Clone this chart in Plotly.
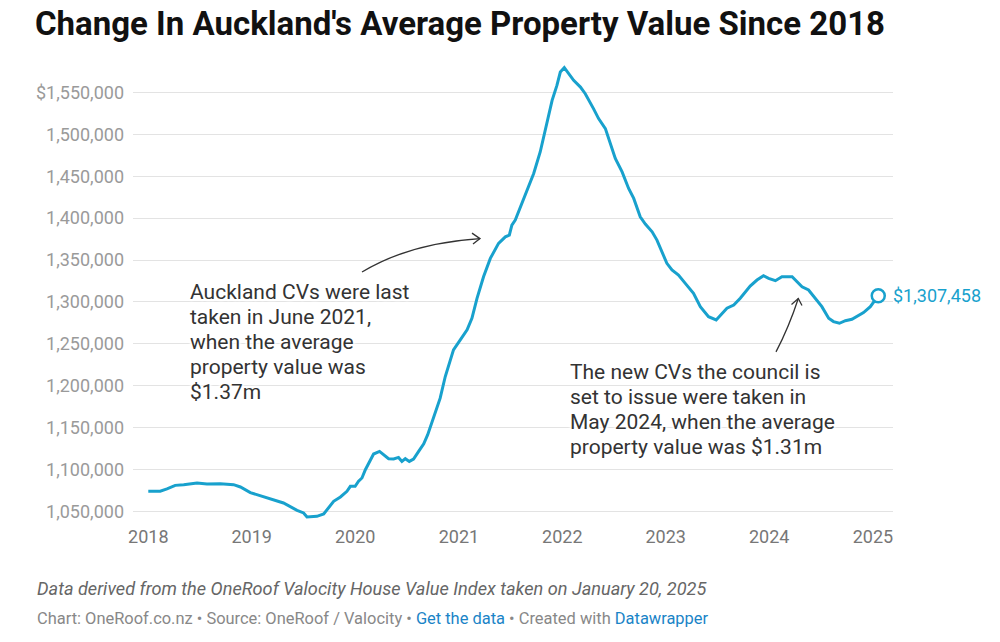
import plotly.graph_objects as go

# ---- data ----
dates = [
    "2018-01-01", "2018-02-12", "2018-03-08", "2018-04-06", "2018-05-06", "2018-06-22",
    "2018-07-27", "2018-09-12", "2018-10-29", "2018-11-22", "2018-12-27", "2019-01-31",
    "2019-03-19", "2019-04-23", "2019-06-10", "2019-07-03", "2019-07-15", "2019-08-19",
    "2019-09-12", "2019-10-17", "2019-11-10", "2019-12-03", "2019-12-15", "2020-01-01",
    "2020-01-13", "2020-01-25", "2020-02-06", "2020-02-23", "2020-03-06", "2020-03-27",
    "2020-04-10", "2020-04-28", "2020-05-16", "2020-06-02", "2020-06-14", "2020-06-26",
    "2020-07-10", "2020-07-25", "2020-08-12", "2020-08-30", "2020-09-13", "2020-10-02",
    "2020-10-27", "2020-11-14", "2020-12-13", "2021-01-06", "2021-01-30", "2021-02-16",
    "2021-03-06", "2021-03-29", "2021-04-22", "2021-05-21", "2021-06-14", "2021-06-28",
    "2021-07-07", "2021-07-19", "2021-08-06", "2021-08-30", "2021-09-22", "2021-10-15",
    "2021-11-08", "2021-11-26", "2021-12-13", "2021-12-25", "2022-01-08", "2022-01-23",
    "2022-02-10", "2022-03-06", "2022-03-23", "2022-04-21", "2022-05-09", "2022-06-02",
    "2022-06-19", "2022-07-07", "2022-07-31", "2022-08-23", "2022-09-10", "2022-10-03",
    "2022-10-21", "2022-11-14", "2022-12-01", "2022-12-19", "2023-01-05", "2023-01-23",
    "2023-02-15", "2023-03-11", "2023-04-09", "2023-05-03", "2023-06-01", "2023-06-28",
    "2023-07-19", "2023-08-05", "2023-08-29", "2023-09-21", "2023-10-26", "2023-11-19",
    "2023-12-12", "2023-12-30", "2024-01-23", "2024-02-15", "2024-03-22", "2024-04-08",
    "2024-04-26", "2024-05-19", "2024-06-06", "2024-07-05", "2024-07-29", "2024-08-15",
    "2024-09-05", "2024-09-26", "2024-10-19", "2024-11-06", "2024-11-29", "2024-12-23",
    "2025-01-20",
]
values = [
    1074400, 1074400, 1077000, 1081300, 1082100, 1084100,
    1083000, 1083300, 1082100, 1079400, 1072700, 1069000,
    1064300, 1060300, 1051500, 1048400, 1043700, 1044400,
    1047200, 1062300, 1067500, 1074200, 1080200, 1080200,
    1086200, 1090100, 1100000, 1111900, 1118700, 1121800,
    1117900, 1113100, 1112700, 1114600, 1109800, 1113100,
    1109900, 1112700, 1121800, 1130900, 1141700, 1159500,
    1185300, 1211100, 1242900, 1254800, 1266700, 1280600,
    1304400, 1330100, 1352000, 1369900, 1377700, 1379800,
    1391700, 1397600, 1413500, 1433300, 1453200, 1478900,
    1512700, 1540500, 1558300, 1574200, 1579400, 1572300,
    1564300, 1556300, 1548400, 1530600, 1518700, 1506800,
    1488900, 1471100, 1455100, 1435400, 1423500, 1401600,
    1392900, 1383700, 1373800, 1359900, 1346100, 1338100,
    1332100, 1322200, 1310300, 1294400, 1282500, 1278600,
    1286500, 1292500, 1296400, 1304400, 1319000, 1326200,
    1331300, 1328200, 1325400, 1330100, 1330100, 1324200,
    1318200, 1314300, 1306300, 1294400, 1280600, 1276600,
    1274600, 1277700, 1279400, 1282500, 1287300, 1294400,
    1307458,
]
year_ticks = ["2018-01-01", "2019-01-01", "2020-01-01", "2021-01-01",
              "2022-01-01", "2023-01-01", "2024-01-01", "2025-01-01"]
year_labels = ["2018", "2019", "2020", "2021", "2022", "2023", "2024", "2025"]
y_ticks = [1050000, 1100000, 1150000, 1200000, 1250000, 1300000,
           1350000, 1400000, 1450000, 1500000, 1550000]
y_labels = ["1,050,000", "1,100,000", "1,150,000", "1,200,000", "1,250,000",
            "1,300,000", "1,350,000", "1,400,000", "1,450,000", "1,500,000",
            "$1,550,000"]
end_label = "$1,307,458"
note_2021 = ["Auckland CVs were last", "taken in June 2021,", "when the average",
             "property value was", "$1.37m"]
note_2024 = ["The new CVs the council is", "set to issue were taken in",
             "May 2024, when the average", "property value was $1.31m"]
title_text = "Change In Auckland's Average Property Value Since 2018"
notes_text = "Data derived from the OneRoof Valocity House Value Index taken on January 20, 2025"

# ---- layout geometry (pixels) ----
W, H = 1000, 642
L, R = 133, 893
T, B = 62.6, 520.4
BLUE = "#18a1cd"
LINK = "#1a84c7"


def px(x):
    return (x - L) / (R - L)


def py(y):
    return (B - y) / (B - T)


fig = go.Figure()
fig.add_trace(go.Scatter(
    x=dates, y=values, mode="lines",
    line=dict(color=BLUE, width=3), hoverinfo="skip", showlegend=False,
))
fig.add_trace(go.Scatter(
    x=[dates[-1]], y=[values[-1]], mode="markers",
    marker=dict(symbol="circle", size=13, color="white",
                line=dict(color=BLUE, width=2.5)),
    cliponaxis=False, hoverinfo="skip", showlegend=False,
))

halo = ("2px 0px 2px white, -2px 0px 2px white, 0px 2px 2px white, "
        "0px -2px 2px white")
note_font = dict(family="Roboto", size=21, color="#333333", shadow=halo)

annos = [
    dict(x=dates[-1], y=values[-1], xref="x", yref="y", text=end_label,
         showarrow=False, xanchor="left", yanchor="middle", xshift=13,
         font=dict(family="Roboto", size=18, color=BLUE)),
    dict(x=px(35), y=py(589), xref="paper", yref="paper", text=notes_text,
         showarrow=False, xanchor="left", yanchor="middle",
         font=dict(family="Roboto", size=18.15, color="#666666", style="italic")),
    dict(x=px(35), y=py(619), xref="paper", yref="paper",
         text=("Chart: OneRoof.co.nz • Source: OneRoof / Valocity • "
               f"<span style='color:{LINK}'>Get the data</span> • Created with "
               f"<span style='color:{LINK}'>Datawrapper</span>"),
         showarrow=False, xanchor="left", yanchor="middle",
         font=dict(family="Roboto", size=16.45, color="#888888")),
]
for i, line in enumerate(note_2021):
    annos.append(dict(x=px(188), y=py(291.7 + 25 * i), xref="paper", yref="paper",
                      text=line, showarrow=False, xanchor="left", yanchor="middle",
                      font=note_font))
for i, line in enumerate(note_2024):
    annos.append(dict(x=px(568), y=py(372 + 25 * i), xref="paper", yref="paper",
                      text=line, showarrow=False, xanchor="left", yanchor="middle",
                      font=note_font))


def path_q(p0, c, p1):
    return (f"M {px(p0[0])},{py(p0[1])} Q {px(c[0])},{py(c[1])} "
            f"{px(p1[0])},{py(p1[1])}")


def path_l(pts):
    s = f"M {px(pts[0][0])},{py(pts[0][1])}"
    for p in pts[1:]:
        s += f" L {px(p[0])},{py(p[1])}"
    return s


arrow_style = dict(color="#333333", width=1.3)
shapes = [
    dict(type="path", xref="paper", yref="paper",
         path=path_q((362, 272), (410, 243), (480, 238.5)), line=arrow_style),
    dict(type="path", xref="paper", yref="paper",
         path=path_l([(472, 233), (480, 238.5), (473, 244)]), line=arrow_style),
    dict(type="path", xref="paper", yref="paper",
         path=path_q((776, 352), (789, 327), (798.3, 298.5)), line=arrow_style),
    dict(type="path", xref="paper", yref="paper",
         path=path_l([(791.5, 304.5), (798.3, 298.5), (802, 305.5)]), line=arrow_style),
]

fig.update_layout(
    width=W, height=H,
    margin=dict(l=L, r=W - R, t=T, b=H - B),
    paper_bgcolor="white", plot_bgcolor="white",
    title=dict(text=title_text,
               x=35 / W, xref="container", xanchor="left",
               y=1 - 23 / H, yref="container", yanchor="middle",
               font=dict(family="Roboto", size=33, color="#111111", weight=700)),
    xaxis=dict(type="date", range=["2017-11-08", "2025-03-13"],
               tickvals=year_ticks, ticktext=year_labels,
               showgrid=False, zeroline=False, showline=False, ticks="",
               tickfont=dict(family="Roboto", size=18, color="#777777"),
               ticklabelstandoff=4),
    yaxis=dict(range=[1040000, 1585000], tickvals=y_ticks, ticktext=y_labels,
               showgrid=True, gridcolor="#e3e3e3", gridwidth=1,
               zeroline=False, showline=False, ticks="",
               tickfont=dict(family="Roboto", size=18, color="#9a9a9a"),
               ticklabelstandoff=8),
    annotations=annos,
    shapes=shapes,
    showlegend=False,
)

fig.write_html("out.html", config={"displayModeBar": False},
               post_script="document.body.style.margin='0';")
